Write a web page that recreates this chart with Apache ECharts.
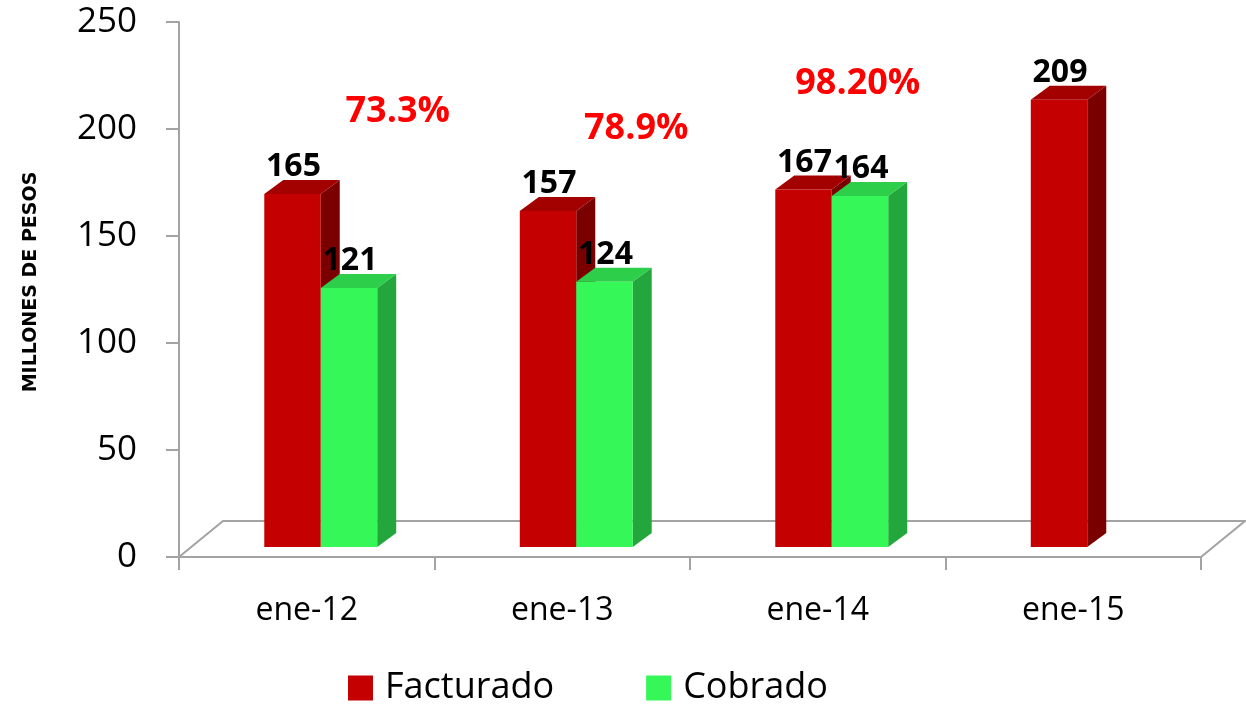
<!DOCTYPE html>
<html>
<head>
<meta charset="utf-8">
<script src="https://cdn.jsdelivr.net/npm/echarts@6/dist/echarts.min.js"></script>
<style>
html,body{margin:0;padding:0;background:#fff;}
#chart{width:1246px;height:704px;}
</style>
</head>
<body>
<div id="chart"></div>
<script>
// ---- data ----
const categories = ['ene-12', 'ene-13', 'ene-14', 'ene-15'];
const facturado = [165, 157, 167, 209];
const cobrado = [121, 124, 164, null];
const ratioLabels = ['73.3%', '78.9%', '98.20%'];
const ratioAnchorValues = [208, 200, 221];
const yTicks = [0, 50, 100, 150, 200, 250];

// ---- layout / style ----
const FONT = '"Open Sans", "Liberation Sans", sans-serif';
const GRID = { left: 179, right: 45, top: 22, bottom: 147 };
const FLOOR_DX = 44, FLOOR_DY = -36;      // depth of the floor
const BAR_SHIFT_X = 14, BAR_SHIFT_Y = -10; // bar front face offset into depth
const BAR_DX = 19, BAR_DY = -14;           // bar depth
const BAR_RATIO = 0.221;
const ratioOffsetsX = [91, 74, 40];
const AXIS_GRAY = '#a3a3a3';

const colors = {
  red: { front: '#c40000', side: '#7a0000', top: '#a30000' },
  green: { front: '#35f757', side: '#23a63b', top: '#2dcf4a' }
};

function makeRender(which) {
  const c = which === 0 ? colors.red : colors.green;
  return function (params, api) {
    const v = api.value(1);
    if (v == null || isNaN(v)) return;
    const idx = api.value(0);
    const base = api.coord([idx, 0]);
    const top = api.coord([idx, v]);
    const w = api.size([1, 0])[0] * BAR_RATIO;
    const x0 = base[0] + BAR_SHIFT_X + (which === 0 ? -w : 0);
    const x1 = x0 + w;
    const yb = base[1] + BAR_SHIFT_Y;
    const yt = top[1] + BAR_SHIFT_Y;
    const children = [
      { type: 'polygon', shape: { points: [[x1, yt], [x1 + BAR_DX, yt + BAR_DY], [x1 + BAR_DX, yb + BAR_DY], [x1, yb]] }, style: { fill: c.side } },
      { type: 'polygon', shape: { points: [[x0, yt], [x0 + BAR_DX, yt + BAR_DY], [x1 + BAR_DX, yt + BAR_DY], [x1, yt]] }, style: { fill: c.top } },
      { type: 'rect', shape: { x: x0, y: yt, width: w, height: yb - yt }, style: { fill: c.front } },
      { type: 'text', x: (x0 + x1) / 2 + 1, y: yt + BAR_DY + 3, style: { text: String(v), fill: '#000', font: 'bold 32px ' + FONT, align: 'center', verticalAlign: 'bottom' }, z2: 10 }
    ];
    return { type: 'group', children: children };
  };
}

function renderRatio(params, api) {
  const i = params.dataIndex;
  const p = api.coord([api.value(0), api.value(1)]);
  return {
    type: 'text', x: p[0] + ratioOffsetsX[i], y: p[1],
    style: { text: ratioLabels[i], fill: '#ff0000', font: 'bold 36px ' + FONT, align: 'center', verticalAlign: 'middle' }
  };
}

const chart = echarts.init(document.getElementById('chart'));

const gx0 = GRID.left, gx1 = 1246 - GRID.right, gy0 = 704 - GRID.bottom;

const option = {
  backgroundColor: '#fff',
  animation: false,
  grid: { left: GRID.left, right: GRID.right, top: GRID.top, bottom: GRID.bottom },
  legend: {
    data: ['Facturado', 'Cobrado'],
    left: 343, top: 665,
    icon: 'rect', itemWidth: 25, itemHeight: 25, itemGap: 92,
    textStyle: { fontSize: 36, fontFamily: FONT, color: '#000', padding: [0, 0, 0, 7] }
  },
  xAxis: {
    type: 'category',
    data: categories,
    axisLine: { lineStyle: { color: AXIS_GRAY, width: 2 } },
    axisTick: { show: true, length: 13, interval: 0, lineStyle: { color: AXIS_GRAY, width: 2 } },
    axisLabel: { fontSize: 32, fontFamily: FONT, color: '#000', margin: 38 },
    splitLine: { show: false }
  },
  yAxis: {
    type: 'value', min: yTicks[0], max: yTicks[yTicks.length - 1], interval: yTicks[1] - yTicks[0],
    axisLine: { show: true, lineStyle: { color: AXIS_GRAY, width: 2 } },
    axisTick: { show: true, length: 13, lineStyle: { color: AXIS_GRAY, width: 2 } },
    axisLabel: { fontSize: 35, fontFamily: FONT, color: '#000', margin: 42 },
    splitLine: { show: false }
  },
  graphic: [
    { type: 'polyline', shape: { points: [[gx0, gy0], [gx0 + FLOOR_DX, gy0 + FLOOR_DY], [gx1 + FLOOR_DX, gy0 + FLOOR_DY], [gx1, gy0]] }, style: { stroke: AXIS_GRAY, lineWidth: 2, fill: null }, z: 0 },
    { type: 'text', x: 31, y: 282, rotation: Math.PI / 2, style: { text: 'MILLONES DE PESOS', font: 'bold 19px "DejaVu Sans", sans-serif', fill: '#000', align: 'center', verticalAlign: 'middle' } }
  ],
  series: [
    {
      name: 'Facturado', type: 'custom', renderItem: makeRender(0),
      itemStyle: { color: colors.red.front },
      encode: { x: 0, y: 1 },
      data: facturado.map((v, i) => [i, v]), z: 3
    },
    {
      name: 'Cobrado', type: 'custom', renderItem: makeRender(1),
      itemStyle: { color: colors.green.front },
      encode: { x: 0, y: 1 },
      data: cobrado.map((v, i) => [i, v == null ? '-' : v]), z: 4
    },
    {
      name: 'ratios', type: 'custom', renderItem: renderRatio, silent: true,
      encode: { x: 0, y: 1 },
      data: ratioAnchorValues.map((v, i) => [i, v]),
      z: 5
    }
  ]
};
chart.setOption(option);
</script>
</body>
</html>
